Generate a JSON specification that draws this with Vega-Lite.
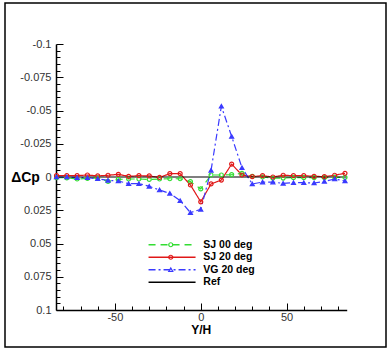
{
  "$schema": "https://vega.github.io/schema/vega-lite/v6.json",
  "width": 381,
  "height": 344,
  "autosize": {"type": "none"},
  "padding": {"left": 5, "top": 3, "right": 2, "bottom": 3},
  "background": "white",
  "config": {
    "view": {"stroke": "black", "strokeWidth": 1.5},
    "axis": {
      "grid": false,
      "domainColor": "black",
      "domainWidth": 1.5,
      "tickColor": "black",
      "tickWidth": 1,
      "labelFont": "Liberation Sans",
      "labelFontSize": 11,
      "labelColor": "#333333",
      "labelFlush": false,
      "labelOverlap": false,
      "labelBound": false,
      "titleFont": "Liberation Sans",
      "titleFontWeight": "bold",
      "titleColor": "black"
    },
    "legend": {"padding": 0, "titleFont": "Liberation Sans"}
  },
  "data": {
    "values": [
      {"x": -84, "y": 0.0005, "series": "SJ 00 deg"},
      {"x": -78, "y": 0.0006, "series": "SJ 00 deg"},
      {"x": -72, "y": 0.0015, "series": "SJ 00 deg"},
      {"x": -66, "y": 0.001, "series": "SJ 00 deg"},
      {"x": -60, "y": 0.0008, "series": "SJ 00 deg"},
      {"x": -54, "y": 0.0033, "series": "SJ 00 deg"},
      {"x": -48, "y": 0.0018, "series": "SJ 00 deg"},
      {"x": -42, "y": 0.0015, "series": "SJ 00 deg"},
      {"x": -36, "y": 0.0015, "series": "SJ 00 deg"},
      {"x": -30, "y": 0.0018, "series": "SJ 00 deg"},
      {"x": -24, "y": 0.0015, "series": "SJ 00 deg"},
      {"x": -18, "y": 0.0013, "series": "SJ 00 deg"},
      {"x": -12, "y": 0.0013, "series": "SJ 00 deg"},
      {"x": -6, "y": 0.0035, "series": "SJ 00 deg"},
      {"x": 0, "y": 0.009, "series": "SJ 00 deg"},
      {"x": 6, "y": -0.0015, "series": "SJ 00 deg"},
      {"x": 12, "y": -0.0015, "series": "SJ 00 deg"},
      {"x": 18, "y": -0.0018, "series": "SJ 00 deg"},
      {"x": 24, "y": -0.0028, "series": "SJ 00 deg"},
      {"x": 30, "y": -0.0005, "series": "SJ 00 deg"},
      {"x": 36, "y": 0.0, "series": "SJ 00 deg"},
      {"x": 42, "y": 0.0008, "series": "SJ 00 deg"},
      {"x": 48, "y": 0.0008, "series": "SJ 00 deg"},
      {"x": 54, "y": 0.0005, "series": "SJ 00 deg"},
      {"x": 60, "y": 0.0005, "series": "SJ 00 deg"},
      {"x": 66, "y": 0.0005, "series": "SJ 00 deg"},
      {"x": 72, "y": 0.0005, "series": "SJ 00 deg"},
      {"x": 78, "y": 0.0003, "series": "SJ 00 deg"},
      {"x": 84, "y": 0.0003, "series": "SJ 00 deg"},
      {"x": -84, "y": -0.001, "series": "SJ 20 deg"},
      {"x": -78, "y": -0.001, "series": "SJ 20 deg"},
      {"x": -72, "y": -0.001, "series": "SJ 20 deg"},
      {"x": -66, "y": -0.0015, "series": "SJ 20 deg"},
      {"x": -60, "y": -0.0008, "series": "SJ 20 deg"},
      {"x": -54, "y": -0.0013, "series": "SJ 20 deg"},
      {"x": -48, "y": -0.002, "series": "SJ 20 deg"},
      {"x": -42, "y": -0.0005, "series": "SJ 20 deg"},
      {"x": -36, "y": -0.001, "series": "SJ 20 deg"},
      {"x": -30, "y": -0.0008, "series": "SJ 20 deg"},
      {"x": -24, "y": 0.0003, "series": "SJ 20 deg"},
      {"x": -18, "y": -0.0025, "series": "SJ 20 deg"},
      {"x": -12, "y": -0.0025, "series": "SJ 20 deg"},
      {"x": -6, "y": 0.006, "series": "SJ 20 deg"},
      {"x": 0, "y": 0.0187, "series": "SJ 20 deg"},
      {"x": 6, "y": 0.0052, "series": "SJ 20 deg"},
      {"x": 12, "y": 0.0023, "series": "SJ 20 deg"},
      {"x": 18, "y": -0.0097, "series": "SJ 20 deg"},
      {"x": 24, "y": -0.0015, "series": "SJ 20 deg"},
      {"x": 30, "y": -0.0003, "series": "SJ 20 deg"},
      {"x": 36, "y": -0.001, "series": "SJ 20 deg"},
      {"x": 42, "y": 0.0, "series": "SJ 20 deg"},
      {"x": 48, "y": -0.0013, "series": "SJ 20 deg"},
      {"x": 54, "y": -0.001, "series": "SJ 20 deg"},
      {"x": 60, "y": -0.001, "series": "SJ 20 deg"},
      {"x": 66, "y": -0.0005, "series": "SJ 20 deg"},
      {"x": 72, "y": -0.0003, "series": "SJ 20 deg"},
      {"x": 78, "y": -0.0013, "series": "SJ 20 deg"},
      {"x": 84, "y": -0.0028, "series": "SJ 20 deg"},
      {"x": -84, "y": 0.0, "series": "VG 20 deg"},
      {"x": -78, "y": 0.0, "series": "VG 20 deg"},
      {"x": -72, "y": 0.0005, "series": "VG 20 deg"},
      {"x": -66, "y": 0.0005, "series": "VG 20 deg"},
      {"x": -60, "y": 0.0013, "series": "VG 20 deg"},
      {"x": -54, "y": 0.0025, "series": "VG 20 deg"},
      {"x": -48, "y": 0.003, "series": "VG 20 deg"},
      {"x": -42, "y": 0.005, "series": "VG 20 deg"},
      {"x": -36, "y": 0.005, "series": "VG 20 deg"},
      {"x": -30, "y": 0.007, "series": "VG 20 deg"},
      {"x": -24, "y": 0.0098, "series": "VG 20 deg"},
      {"x": -18, "y": 0.0123, "series": "VG 20 deg"},
      {"x": -12, "y": 0.0178, "series": "VG 20 deg"},
      {"x": -6, "y": 0.0268, "series": "VG 20 deg"},
      {"x": 0, "y": 0.0243, "series": "VG 20 deg"},
      {"x": 6, "y": -0.005, "series": "VG 20 deg"},
      {"x": 12, "y": -0.0532, "series": "VG 20 deg"},
      {"x": 18, "y": -0.0305, "series": "VG 20 deg"},
      {"x": 24, "y": -0.007, "series": "VG 20 deg"},
      {"x": 30, "y": 0.0052, "series": "VG 20 deg"},
      {"x": 36, "y": 0.0038, "series": "VG 20 deg"},
      {"x": 42, "y": 0.0038, "series": "VG 20 deg"},
      {"x": 48, "y": 0.0048, "series": "VG 20 deg"},
      {"x": 54, "y": 0.0043, "series": "VG 20 deg"},
      {"x": 60, "y": 0.0043, "series": "VG 20 deg"},
      {"x": 66, "y": 0.0045, "series": "VG 20 deg"},
      {"x": 72, "y": 0.0033, "series": "VG 20 deg"},
      {"x": 78, "y": 0.0015, "series": "VG 20 deg"},
      {"x": 84, "y": 0.003, "series": "VG 20 deg"},
      {"x": -84.3, "y": 0, "series": "Ref"},
      {"x": 85, "y": 0, "series": "Ref"}
    ]
  },
  "encoding": {
    "x": {
      "field": "x",
      "type": "quantitative",
      "scale": {"domain": [-84.3, 85], "range": [51, 341.7], "nice": false, "zero": false},
      "axis": {
        "orient": "bottom",
        "offset": -37,
        "title": "Y/H",
        "titleFontSize": 12,
        "titleX": 195.7,
        "titleY": 19.5,
        "titleAlign": "center",
        "titleBaseline": "middle",
        "values": [-80, -70, -60, -50, -40, -30, -20, -10, 0, 10, 20, 30, 40, 50, 60, 70, 80],
        "labelExpr": "datum.value % 50 === 0 ? datum.value + '' : ''",
        "tickSize": {"condition": {"test": "datum.value % 50 === 0", "value": -7}, "value": -4},
        "labelPadding": 8
      }
    },
    "y": {
      "field": "y",
      "type": "quantitative",
      "scale": {"domain": [-0.1, 0.1], "range": [41, 307], "nice": false, "zero": false},
      "axis": {
        "orient": "left",
        "offset": -51,
        "title": "ΔCp",
        "titleFontSize": 14,
        "titleAngle": 0,
        "titleX": -31,
        "titleY": 174,
        "titleAlign": "center",
        "titleBaseline": "middle",
        "values": [-0.1, -0.095, -0.09, -0.085, -0.08, -0.075, -0.07, -0.065, -0.06, -0.055, -0.05, -0.045, -0.04, -0.035, -0.03, -0.025, -0.02, -0.015, -0.01, -0.005, 0, 0.005, 0.01, 0.015, 0.02, 0.025, 0.03, 0.035, 0.04, 0.045, 0.05, 0.055, 0.06, 0.065, 0.07, 0.075, 0.08, 0.085, 0.09, 0.095, 0.1],
        "labelExpr": "abs(round(datum.value * 1000)) % 25 === 0 ? datum.value + '' : ''",
        "tickSize": {"condition": {"test": "abs(round(datum.value * 1000)) % 25 === 0", "value": -7}, "value": -4},
        "labelPadding": 12
      }
    }
  },
  "layer": [
    {
      "mark": {"type": "line", "strokeWidth": 1.2},
      "encoding": {
        "color": {
          "field": "series",
          "type": "nominal",
          "scale": {"domain": ["SJ 00 deg", "SJ 20 deg", "VG 20 deg", "Ref"], "range": ["#33dd33", "#e01818", "#3a3aff", "#000000"]},
          "legend": {
            "orient": "none",
            "legendX": 161.8,
            "legendY": 236.5,
            "title": null,
            "symbolType": "M-6,0H6",
            "symbolSize": 61.4,
            "symbolStrokeWidth": 1.5,
            "labelFont": "Liberation Sans",
            "labelFontSize": 10.5,
            "labelFontWeight": "bold",
            "labelColor": "black",
            "labelOffset": 26,
            "rowPadding": 1.5,
            "encode": {
              "symbols": {
                "update": {
                  "fill": {"value": "transparent"},
                  "strokeWidth": {"value": 1.5},
                  "strokeDash": {"signal": "datum.value === 'SJ 00 deg' ? [7, 5] : datum.value === 'VG 20 deg' ? [7, 3, 2, 3] : [1, 0]"}
                }
              }
            }
          }
        },
        "strokeDash": {
          "field": "series",
          "type": "nominal",
          "scale": {"domain": ["SJ 00 deg", "SJ 20 deg", "VG 20 deg", "Ref"], "range": [[7, 5], [1, 0], [7, 3, 2, 3], [1, 0]]},
          "legend": null
        }
      }
    },
    {
      "transform": [{"filter": "datum.series !== 'Ref'"}],
      "mark": {"type": "point", "filled": false, "size": 16, "strokeWidth": 1.2, "opacity": 1},
      "encoding": {
        "color": {"field": "series", "type": "nominal"},
        "fill": {"condition": {"test": "datum.series === 'VG 20 deg'", "value": "#3a3aff"}, "value": "transparent"},
        "shape": {
          "field": "series",
          "type": "nominal",
          "scale": {"domain": ["SJ 00 deg", "SJ 20 deg", "VG 20 deg"], "range": ["circle", "circle", "triangle-up"]},
          "legend": {
            "orient": "none",
            "legendX": 160.5,
            "legendY": 236.5,
            "title": null,
            "symbolSize": 16,
            "symbolStrokeWidth": 1.2,
            "symbolOpacity": 1,
            "symbolStrokeColor": {"expr": "scale('color', datum.value)"},
            "symbolFillColor": {"expr": "datum.value === 'VG 20 deg' ? '#3a3aff' : 'transparent'"},
            "labelExpr": "''",
            "labelFontSize": 10.5,
            "labelOffset": 0,
            "rowPadding": 1.5
          }
        }
      }
    }
  ]
}
